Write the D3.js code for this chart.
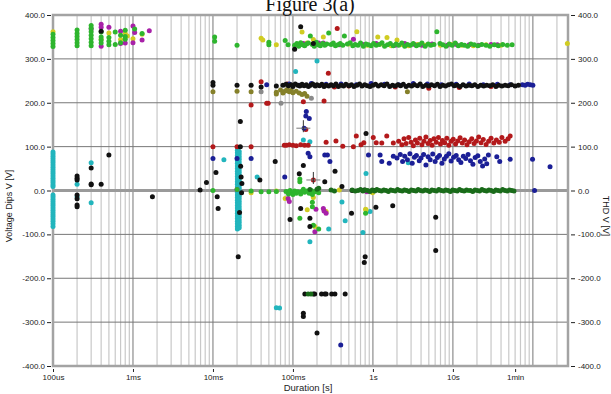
<!DOCTYPE html>
<html>
<head>
<meta charset="utf-8">
<script src="https://cdn.jsdelivr.net/npm/d3@7"></script>
<style>
	body { margin: 0; background: #fff; }
	svg text { font-family: 'Liberation Sans', Arial, sans-serif; fill: #222; }
</style>
</head>
<body>
<div id="chart"></div>
<script>
// tick values / labels
const durationTicks = [1e-4, 1e-3, 1e-2, 0.1, 1, 10, 60];
const durationLabels = ['100us', '1ms', '10ms', '100ms', '1s', '10s', '1min'];
const voltTicks = [400, 300, 200, 100, 0, -100, -200, -300, -400];

// points: [duration s, volts]
const greenPts = [
	[1e-4,328],[1e-4,335],[1e-4,342],[1e-4,349],[1e-4,356],
	[2e-4,330],[2e-4,337],[2e-4,344],[2e-4,351],[2e-4,358],[2e-4,366],
	[3e-4,330],[3e-4,338],[3e-4,346],[3e-4,354],[3e-4,362],[3e-4,370],[3e-4,376],
	[4e-4,361],[4e-4,350],[4e-4,343],[4e-4,336],
	[5e-4,349],[5e-4,340],[5e-4,332],[6e-4,361],[6e-4,333],
	[7e-4,354],[7e-4,337],[8e-4,365],[8e-4,351],[8e-4,345],
	[1.05e-3,368],[1.3e-3,358],
	[0.0105,350],[0.0105,340],[0.02,331],[0.05,338],[0.05,332],[0.08,342],[0.087,332],
	[0.105,331],[0.112,335],[0.118,329],[0.125,337],[0.132,332],[0.14,330],[0.148,334],[0.156,336],
	[0.165,352],[0.175,333],[0.185,329],[0.196,338],[0.208,332],[0.22,330],[0.235,335],[0.25,331],
	[0.265,334],[0.28,359],[0.3,333],[0.32,336],[0.34,330],[0.365,332],[0.39,335],[0.42,331],
	[0.44,352],[0.48,334],[0.52,337],[0.56,330],[0.6,333],[0.65,331],[0.7,336],[0.76,329],
	[0.82,334],[0.88,332],[0.95,330],[1.02,335],[1.1,331],[1.2,333],[1.3,337],[1.4,329],
	[1.52,332],[1.65,335],[1.8,330],[1.95,334],[2.1,331],[2.3,336],[2.5,329],[2.7,333],
	[2.95,331],[3.2,335],[3.5,330],[3.8,332],[4.1,336],[4.5,329],[4.9,334],[5.3,331],
	[5.8,333],[6.3,362],[6.9,335],[7.5,332],[8.2,329],[9,334],[9.8,331],[10.7,336],
	[11.7,330],[12.8,333],[14,331],[15.3,329],[16.8,334],[18.5,332],[20.5,330],[23,333],
	[26,331],[29,329],[33,332],[37,330],[42,333],[48,331],[55,332],
	[0.01,0],[0.02,2],[0.03,-1],[0.04,-3],[0.05,-3],[0.062,-2],
	[0.082,-2],[0.088,-8],[0.092,0],[0.097,-5],[0.1,-9],[0.105,-1],[0.11,-6],[0.115,-3],
	[0.125,-8],[0.13,-2],[0.135,3],[0.14,-4],[0.15,-1],[0.16,-6],[0.17,0],[0.175,-9],
	[0.19,-3],[0.21,-5],
	[0.122,26],[0.122,20],[0.175,-27],[0.175,-37],[0.18,-79],[0.21,-88],[0.122,-63],
	[0.81,-52],[15.6,0]
];
const yellowPts = [
	[1e-4,362],[4e-4,345],[5e-4,359],[7e-4,344],[8e-4,358],[8.5e-4,352],[1e-3,346],[1.3e-3,356],
	[0.04,347],[0.042,343],[0.062,332],[0.13,361],[0.15,336],[0.18,344],[0.24,350],[0.63,362],
	[1.15,350],[1.5,349],[2.0,343],[0.5,334],[0.85,331],[1.25,334],[1.7,330],[2.3,333],
	[2.8,330],[3.6,333],[4.5,331],[7,331],[9.5,333],[13,331],[18,330],[26,332],[40,331],[270,335],
	[0.062,-1],[0.03,-5],[0.08,-18],[0.151,-44],[0.188,-82],[0.38,1],[0.82,-44],[0.99,-5],
	[0.18,-16],[0.26,-48],[0.81,-43]
];
const magentaPts = [
	[3e-4,368],[4e-4,379],[4e-4,372],[4e-4,329],[5e-4,372],[7e-4,363],[7e-4,335],[8e-4,336],
	[1e-3,375],[1e-3,337],[1.05e-3,360],[1.3e-3,343],[1.6e-3,364],
	[0.135,335],[0.21,336],[0.24,336],[0.57,345],
	[0.38,332],[0.75,333],[1.1,335],[1.9,331],[2.5,335],[3.3,333],[4.1,331],[5.5,334],
	[8.5,331],[11,333],[16,332],[21,331],[30,333],[36,332],
	[0.02,2],[0.087,-18],[0.09,-25],[0.194,-43],[0.245,-47],[0.26,-52],[0.188,-94],[0.84,-3],[0.24,-41]
];
const blackPts = [
	[4e-4,363],
	[2e-4,33],[2e-4,28],[2e-4,24],[2e-4,-10],[2e-4,-19],[2e-4,-33],[2e-4,-37],
	[3e-4,51],[3e-4,15],[3e-4,13],[4e-4,14],[5e-4,81],[1.75e-3,-14],
	[0.105,322],[0.125,373],[0.18,335],
	[0.01,240],[0.01,246],[0.02,240],[0.03,240],[0.04,236],[0.062,238],[0.075,240],
	[0.082,242],[0.088,239],[0.095,241],[0.1,237],[0.107,243],[0.115,240],[0.122,238],[0.13,242],
	[0.138,239],[0.147,241],[0.156,237],[0.166,240],[0.177,243],[0.19,238],[0.2,241],[0.215,239],
	[0.23,242],[0.245,237],[0.26,240],[0.28,238],[0.3,241],[0.32,239],[0.345,243],[0.37,237],
	[0.4,240],[0.43,238],[0.46,242],[0.5,239],[0.54,241],[0.58,237],[0.63,240],[0.68,243],
	[0.73,238],[0.79,241],[0.85,239],[0.92,237],[1.0,240],[1.08,242],[1.17,238],[1.27,241],
	[1.38,239],[1.5,243],[1.62,237],[1.76,240],[1.9,238],[2.05,241],[2.22,239],[2.4,242],
	[2.6,237],[2.82,240],[3.05,238],[3.3,241],[3.6,239],[3.9,243],[4.2,237],[4.6,240],
	[5.0,238],[5.4,241],[5.9,239],[6.4,242],[6.9,237],[7.5,240],[8.1,238],[8.8,241],
	[9.6,243],[10.4,239],[11.3,240],[12.3,237],[13.4,241],[14.6,238],[15.9,240],[17.3,239],
	[18.8,241],[20.5,237],[22.3,240],[24.3,238],[26.5,240],[29,239],[31.5,241],[34.5,237],
	[37.5,240],[41,238],[45,240],[49,239],[54,241],[60,238],[66,240],
	[0.022,157],[0.06,66],[0.135,57],[0.336,44],[0.82,130],[0.0109,41],[0.0083,18],[0.0069,1],
	[0.0207,-151],[0.0386,24],[0.12,38],[0.25,20],[0.41,9],[0.125,-41],[0.54,-52],[1.09,-38],
	[1.77,-35],[0.092,-66],[0.163,-63],[0.163,-82],[0.8,-151],[0.0113,-14],[0.0116,-41],
	[0.55,0],[0.78,1],[1.05,0],[6.1,-61],[6.1,-137],[0.78,-164],
	[0.141,-236],[0.18,-236],[0.187,-236],[0.228,-236],[0.25,-236],[0.26,-236],[0.305,-236],
	[0.335,-236],[0.45,-236],[0.135,-280],[0.135,-287],[0.2,-325],
	[0.0225,31],[0.023,16],[0.022,100],[0.0215,-50],[0.0228,-5],[0.0222,55]
];
const bluePts = [
	[0.047,241],[0.09,243],[0.12,240],[0.17,244],[0.26,242],[0.4,243],[0.62,241],[0.95,244],
	[1.4,242],[2.1,241],[3.2,244],[4.8,243],[7.2,241],[11,242],[16,243],[24,241],[36,242],
	[52,241],[74,241],[80,240],[86,242],[93,241],[100,240],
	[0.147,180],[0.145,170],[0.16,164],[0.138,142],
	[0.01,73],[0.02,73],[0.03,73],[0.079,31],[0.155,85],[0.163,77],[0.25,81],[0.27,81],[0.29,66],
	[0.88,81],[1.23,81],[1.29,66],[1.6,62],[1.8,78],
	[2.0,74],[2.2,82],[2.35,66],[2.5,78],[2.7,70],[2.9,84],[3.1,62],[3.3,76],[3.5,80],[3.8,68],
	[4.0,74],[4.3,82],[4.6,58],[4.9,77],[5.2,70],[5.6,83],[6.0,66],[6.4,75],[6.8,80],[7.3,62],
	[7.8,72],[8.3,78],[8.9,84],[9.5,67],[10.2,76],[11,80],[11.8,70],[12.6,64],[13.5,78],[14.5,73],
	[15.5,82],[16.6,68],[17.8,60],[19,75],[20.5,79],[22,66],[23.5,56],[25,72],[26.5,61],
	[27.8,81],[35.4,77],[38.5,66],[52,71],[99,71],[164,54],[105,0],[0.396,-352]
];
const redPts = [
	[0.358,369],[0.277,267],[0.04,248],[0.03,195],[0.047,199],[0.049,199],[0.135,202],[0.245,204],
	[0.145,139],[0.18,24],
	[0.01,100],[0.02,100],[0.03,100],[0.078,103],[0.083,103],[0.09,104],[0.1,103],[0.11,102],
	[0.125,104],[0.14,103],[0.155,103],
	[0.26,110],[0.345,113],[0.42,101],[0.57,100],[0.62,124],[0.71,104],[0.77,109],[1.01,121],
	[1.1,109],[1.29,108],[1.49,124],[1.8,108],
	[2.1,112],[2.3,104],[2.45,118],[2.6,107],[2.8,121],[3.0,110],[3.2,102],[3.4,115],[3.6,108],
	[3.85,119],[4.1,104],[4.35,112],[4.6,122],[4.9,107],[5.2,114],[5.5,103],[5.8,118],[6.2,110],
	[6.6,121],[7.0,106],[7.4,114],[7.9,109],[8.4,119],[8.9,103],[9.5,112],[10.1,117],[10.8,106],
	[11.5,113],[12.3,120],[13.1,108],[14,115],[15,104],[16,111],[17.2,118],[18.4,107],[19.7,113],
	[21,122],[22.5,109],[24,116],[26,105],[28,112],[30,119],[32.5,108],[35,115],[38,110],
	[41,121],[45,112],[49,118],[52,124],
	[0.085,243],[0.5,238],[1.9,236],[5,233],[30,237],[0.33,236],[12,235]
];
const cyanPts = [
	[1e-4,88],[1e-4,83],[1e-4,78],[1e-4,73],[1e-4,68],[1e-4,63],[1e-4,58],[1e-4,53],[1e-4,48],
	[1e-4,43],[1e-4,38],[1e-4,33],[1e-4,28],[1e-4,23],[1e-4,18],[1e-4,13],[1e-4,9],
	[1e-4,-10],[1e-4,-15],[1e-4,-20],[1e-4,-25],[1e-4,-30],[1e-4,-35],[1e-4,-40],[1e-4,-45],
	[1e-4,-50],[1e-4,-55],[1e-4,-60],[1e-4,-65],[1e-4,-70],[1e-4,-76],[1e-4,-82],
	[2e-4,14],[2e-4,-14],[3e-4,63],[3e-4,-28],
	[0.108,271],[0.2,295],[0.135,115],[0.163,111],[0.0137,70],[0.0357,31],[0.82,39],
	[0.0202,92],[0.0202,86],[0.0202,80],[0.0202,74],[0.0202,68],[0.0202,62],[0.0202,56],[0.0202,50],
	[0.0202,44],[0.0202,38],[0.0202,32],[0.0202,26],[0.0202,20],[0.0202,14],[0.0202,8],[0.0202,2],
	[0.0202,-4],[0.0202,-10],[0.0202,-16],[0.0202,-22],[0.0202,-28],[0.0202,-34],[0.0202,-40],
	[0.0202,-46],[0.0202,-52],[0.0202,-58],[0.0202,-64],[0.0202,-70],[0.0202,-76],[0.0202,-82],
	[0.0202,-88],
	[0.0213,89],[0.0213,83],[0.0213,77],[0.0213,71],[0.0213,65],[0.0213,59],[0.0213,53],[0.0213,47],
	[0.0213,41],[0.0213,35],[0.0213,29],[0.0213,23],[0.0213,17],[0.0213,11],[0.0213,5],[0.0213,-1],
	[0.0213,-7],[0.0213,-13],[0.0213,-19],[0.0213,-25],[0.0213,-31],[0.0213,-37],[0.0213,-43],
	[0.0213,-49],[0.0213,-55],[0.0213,-61],[0.0213,-67],[0.0213,-73],[0.0213,-79],[0.0213,-85],
	[0.41,-26],[0.45,-69],[0.92,-48],[0.28,-88],[0.163,-117],[0.75,-96],[2.77,63],
	[0.062,-267],[0.068,-268]
];
const darkGreenPts = [
	[0.163,2],[0.2,3],[0.21,5],[0.3,1],[0.33,-1],
	[0.55,1],[0.6,-1],[0.65,0],[0.7,2],[0.75,-1],[0.8,1],[0.86,0],[0.92,-2],[0.98,1],[1.05,-1],
	[1.12,2],[1.2,0],[1.28,-1],[1.37,1],[1.46,0],[1.56,-2],[1.67,1],[1.78,0],[1.9,-1],[2.03,2],
	[2.17,0],[2.32,-1],[2.48,1],[2.65,0],[2.83,-2],[3.02,1],[3.23,0],[3.45,-1],[3.68,2],[3.93,0],
	[4.2,-1],[4.49,1],[4.8,0],[5.12,-2],[5.47,1],[5.85,0],[6.25,-1],[6.67,2],[7.13,0],[7.62,-1],
	[8.14,1],[8.7,0],[9.3,-2],[9.93,1],[10.6,0],[11.3,-1],[12.1,2],[12.9,0],[13.8,-1],[14.8,1],
	[16.6,0],[17.7,-2],[18.9,1],[20.2,0],[21.6,-1],[23.1,2],[24.7,0],[26.4,-1],[28.2,1],[30.1,0],
	[32.2,-2],[34.4,1],[36.7,0],[39.2,-1],[41.9,2],[44.8,0],[47.8,-1],[51,1],[54.5,0],[58,-1],
	[0.155,-236],[0.168,-236]
];
const olivePts = [
	[0.01,225],[0.02,226],[0.03,225],[0.062,224],[0.062,220],[0.07,229],[0.075,222],[0.08,227],
	[0.085,230],[0.09,225],[0.095,228],[0.1,223],[0.11,226],[0.12,222],[0.13,219],[0.14,221],
	[0.15,215],[2.7,225]
];
const grayPts = [[0.04,225],[0.17,210],[0.071,199]];
const markerCrosses = [[0.135,142],[0.18,24]];

const series = [
	{ name: 'cyan', color: '#22b5bd', pts: cyanPts },
	{ name: 'red', color: '#b3191b', pts: redPts },
	{ name: 'blue', color: '#1b1f96', pts: bluePts },
	{ name: 'yellow', color: '#d0cc22', pts: yellowPts },
	{ name: 'magenta', color: '#a821a8', pts: magentaPts },
	{ name: 'green', color: '#2eb52e', pts: greenPts },
	{ name: 'olive', color: '#85802a', pts: olivePts },
	{ name: 'gray', color: '#8a8a8a', pts: grayPts },
	{ name: 'black', color: '#111111', pts: blackPts },
	{ name: 'darkgreen', color: '#1a6b1a', pts: darkGreenPts },
];

const width = 611;
const height = 394;
const plot = { left: 53, right: 568, top: 15, bottom: 366 };

const svg = d3
	.select('#chart')
	.append('svg')
	.attr('width', width)
	.attr('height', height)
	.style('background', 'white');

const x = d3.scaleLog().domain([1e-4, 275]).range([plot.left, plot.right]);
const y = d3.scaleLinear().domain([-400, 400]).range([plot.bottom, plot.top]);

// vertical grid: 1..9 in every decade
const gridX = [];
for (let k = -4; k <= 2; k++) {
	for (let m = 1; m <= 9; m++) {
		const v = m * Math.pow(10, k);
		if (v > 1e-4 && v < 275) gridX.push({ v, major: m === 1 });
	}
}
svg.append('g')
	.selectAll('line')
	.data(gridX.filter((d) => !d.major))
	.enter()
	.append('line')
	.attr('x1', (d) => x(d.v))
	.attr('x2', (d) => x(d.v))
	.attr('y1', plot.top)
	.attr('y2', plot.bottom)
	.attr('stroke', '#c8c8c8')
	.attr('stroke-width', 1.2);
svg.append('g')
	.selectAll('line')
	.data(gridX.filter((d) => d.major))
	.enter()
	.append('line')
	.attr('x1', (d) => x(d.v))
	.attr('x2', (d) => x(d.v))
	.attr('y1', plot.top)
	.attr('y2', plot.bottom)
	.attr('stroke', '#8c8c8c')
	.attr('stroke-width', 1.2);

svg.append('g')
	.selectAll('line')
	.data(voltTicks.filter((v) => Math.abs(v) < 400))
	.enter()
	.append('line')
	.attr('x1', plot.left)
	.attr('x2', plot.right)
	.attr('y1', (d) => y(d))
	.attr('y2', (d) => y(d))
	.attr('stroke', (d) => (d === 0 ? '#9a9a9a' : '#777'))
	.attr('stroke-width', (d) => (d === 0 ? 3 : 1));

// frame
svg.append('rect')
	.attr('x', plot.left)
	.attr('y', plot.top)
	.attr('width', plot.right - plot.left)
	.attr('height', plot.bottom - plot.top)
	.attr('fill', 'none')
	.attr('stroke', '#a3a3a3')
	.attr('stroke-width', 2.5);

// points
series.forEach((s) => {
	svg.append('g')
		.attr('class', 'pts ' + s.name)
		.selectAll('circle')
		.data(s.pts)
		.enter()
		.append('circle')
		.attr('cx', (d) => x(d[0]))
		.attr('cy', (d) => y(d[1]))
		.attr('r', 2.5)
		.attr('fill', s.color);
});

// small cross markers
const cross = svg.append('g').selectAll('g').data(markerCrosses).enter().append('g');
cross.append('line')
	.attr('x1', (d) => x(d[0]) - 7)
	.attr('x2', (d) => x(d[0]) + 7)
	.attr('y1', (d) => y(d[1]))
	.attr('y2', (d) => y(d[1]))
	.attr('stroke', '#777')
	.attr('stroke-width', 1);
cross.append('line')
	.attr('x1', (d) => x(d[0]))
	.attr('x2', (d) => x(d[0]))
	.attr('y1', (d) => y(d[1]) - 8)
	.attr('y2', (d) => y(d[1]) + 4)
	.attr('stroke', '#333')
	.attr('stroke-width', 1);

// axes
const fmt = (d) => d.toFixed(1);
const leftAxis = svg.append('g')
	.attr('transform', `translate(${plot.left - 2},0)`)
	.call(d3.axisLeft(y).tickValues(voltTicks).tickFormat(fmt).tickSize(4).tickPadding(2));
const rightAxis = svg.append('g')
	.attr('transform', `translate(${plot.right + 3},0)`)
	.call(d3.axisRight(y).tickValues(voltTicks).tickFormat(fmt).tickSize(4).tickPadding(3));
const bottomAxis = svg.append('g')
	.attr('transform', `translate(0,${plot.bottom + 3})`)
	.call(
		d3.axisBottom(x)
			.tickValues(durationTicks)
			.tickFormat((d, i) => durationLabels[i])
			.tickSize(3)
			.tickPadding(2)
	);
[leftAxis, rightAxis, bottomAxis].forEach((a) => {
	a.select('.domain').remove();
	a.selectAll('.tick line').attr('stroke', '#222');
	a.selectAll('text').style('font-size', '8px').style('font-family', 'Liberation Sans, Arial, sans-serif').attr('fill', '#222');
});

// titles
svg.append('text')
	.attr('x', 310)
	.attr('y', 11)
	.attr('text-anchor', 'middle')
	.style('font-family', "'Liberation Serif', 'Times New Roman', serif")
	.style('font-size', '20px')
	.style('fill', '#111')
	.text('Figure 3(a)');

svg.append('text')
	.attr('transform', 'translate(12,206) rotate(-90)')
	.attr('text-anchor', 'middle')
	.style('font-size', '9px')
	.text('Voltage Dips V [V]');

svg.append('text')
	.attr('transform', 'translate(603,216) rotate(90)')
	.attr('text-anchor', 'middle')
	.style('font-size', '9px')
	.text('THD V [V]');

svg.append('text')
	.attr('x', 308)
	.attr('y', 391)
	.attr('text-anchor', 'middle')
	.style('font-size', '9.5px')
	.text('Duration [s]');
</script>
</body>
</html>
